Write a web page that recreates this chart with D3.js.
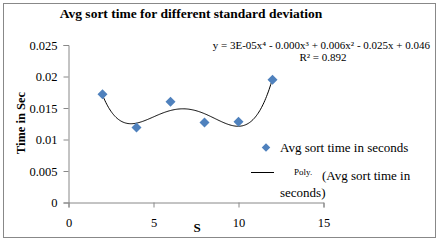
<!DOCTYPE html>
<html>
<head>
<meta charset="utf-8">
<script src="https://cdn.jsdelivr.net/npm/d3@7"></script>
<style>
    body { margin: 0; background: #fff; }
    svg text { font-family: "Liberation Serif", "Times New Roman", serif; fill: #000; }
</style>
</head>
<body>
<div id="chart"></div>
<script>
const sValues = [2, 4, 6, 8, 10, 12];
const sortTimes = [0.0172, 0.0119, 0.0160, 0.0127, 0.0128, 0.0195];
const xTicks = [0, 5, 10, 15];
const yTicks = [0, 0.005, 0.01, 0.015, 0.02, 0.025];
const yTickLabels = ["0", "0.005", "0.01", "0.015", "0.02", "0.025"];

const width = 439, height = 241;

const svg = d3.select("#chart")
    .append("svg")
    .attr("width", width)
    .attr("height", height);

svg.append("rect")
    .attr("x", 3.5).attr("y", 3.5)
    .attr("width", 432).attr("height", 234)
    .attr("fill", "#fff")
    .attr("stroke", "#888");

const x = d3.scaleLinear().domain([0, 15]).range([68.5, 323.5]);
const y = d3.scaleLinear().domain([0, 0.025]).range([202.5, 45]);

// axes
const xAxis = svg.append("g")
    .attr("transform", `translate(0,${y(0)})`)
    .call(d3.axisBottom(x).tickValues(xTicks).tickSize(5).tickFormat(d3.format("d")));
xAxis.selectAll("text").attr("dy", "1.35em").style("font-size", "12.5px");

const yAxis = svg.append("g")
    .attr("transform", `translate(${x(0)},0)`)
    .call(d3.axisLeft(y).tickValues(yTicks).tickSize(5).tickFormat((d, i) => yTickLabels[i]));
yAxis.selectAll("text").attr("x", -11).style("font-size", "12.5px");

svg.selectAll(".domain, .tick line").attr("stroke", "#888");
svg.selectAll(".tick text").attr("fill", "#000");

// polynomial trendline (order 4 least squares fit of the data)
function polyFit(xs, ys, order) {
    const n = order + 1;
    const A = [];
    for (let r = 0; r < n; r++) {
        A.push([]);
        for (let c = 0; c < n; c++) {
            A[r].push(d3.sum(xs, v => Math.pow(v, r + c)));
        }
        A[r].push(d3.sum(xs, (v, i) => Math.pow(v, r) * ys[i]));
    }
    for (let i = 0; i < n; i++) {
        let p = i;
        for (let k = i + 1; k < n; k++) if (Math.abs(A[k][i]) > Math.abs(A[p][i])) p = k;
        [A[i], A[p]] = [A[p], A[i]];
        for (let k = 0; k < n; k++) {
            if (k === i) continue;
            const f = A[k][i] / A[i][i];
            for (let c = i; c <= n; c++) A[k][c] -= f * A[i][c];
        }
    }
    return A.map((row, i) => row[n] / row[i]);
}

const coef = polyFit(sValues, sortTimes, 4);
const polyAt = v => coef.reduce((acc, c, i) => acc + c * Math.pow(v, i), 0);
const trend = d3.range(sValues[0], sValues[sValues.length - 1] + 0.001, 0.05).map(v => [v, polyAt(v)]);

svg.append("path")
    .datum(trend)
    .attr("d", d3.line().x(d => x(d[0])).y(d => y(d[1])))
    .attr("fill", "none")
    .attr("stroke", "#000")
    .attr("stroke-width", 1);

// markers
const diamond = d3.symbol().type(d3.symbolSquare).size(50);
svg.selectAll(".pt")
    .data(sValues)
    .join("path")
    .attr("class", "pt")
    .attr("d", diamond)
    .attr("transform", (d, i) => `translate(${x(d)},${y(sortTimes[i])}) rotate(45)`)
    .attr("fill", "#4F81BD");

// titles
svg.append("text")
    .attr("x", 191).attr("y", 18)
    .attr("text-anchor", "middle")
    .style("font-size", "13.5px").style("font-weight", "bold")
    .text("Avg sort time for different standard deviation");

svg.append("text")
    .attr("x", 197).attr("y", 232)
    .attr("text-anchor", "middle")
    .style("font-size", "13px").style("font-weight", "bold")
    .text("S");

svg.append("text")
    .attr("transform", "translate(25,123) rotate(-90)")
    .attr("text-anchor", "middle")
    .style("font-size", "12.5px").style("font-weight", "bold")
    .text("Time in Sec");

// equation
svg.append("text")
    .attr("x", 430).attr("y", 49)
    .attr("text-anchor", "end")
    .style("font-size", "11px")
    .text("y = 3E-05x\u2074 - 0.000x\u00b3 + 0.006x\u00b2 - 0.025x + 0.046");
svg.append("text")
    .attr("x", 323).attr("y", 61)
    .attr("text-anchor", "middle")
    .style("font-size", "11px")
    .text("R\u00b2 = 0.892");

// legend
const legend = svg.append("g");
legend.append("path")
    .attr("d", d3.symbol().type(d3.symbolSquare).size(36))
    .attr("transform", "translate(266,147.5) rotate(45)")
    .attr("fill", "#4F81BD");
legend.append("text")
    .attr("x", 280).attr("y", 151.5)
    .style("font-size", "13px")
    .text("Avg sort time in seconds");
legend.append("line")
    .attr("x1", 251).attr("x2", 274)
    .attr("y1", 172.5).attr("y2", 172.5)
    .attr("stroke", "#000");
legend.append("text")
    .attr("x", 294).attr("y", 175)
    .style("font-size", "9px")
    .text("Poly.");
legend.append("text")
    .attr("x", 322).attr("y", 180)
    .style("font-size", "13px")
    .text("(Avg sort time in");
legend.append("text")
    .attr("x", 280).attr("y", 196.5)
    .style("font-size", "13px")
    .text("seconds)");
</script>
</body>
</html>
